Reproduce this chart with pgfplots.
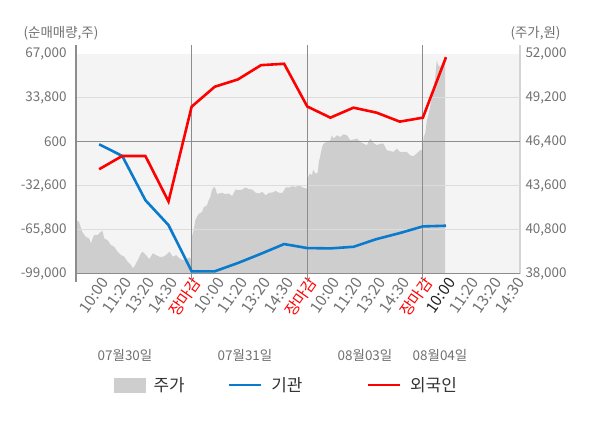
\documentclass[border=0pt]{standalone}
\usepackage{pgfplots}
\pgfplotsset{compat=1.18}
\usepackage{fontspec}
\setmainfont{Noto Sans CJK KR}
\definecolor{bgc}{HTML}{F4F4F4}
\definecolor{areagray}{HTML}{CECECE}
\definecolor{gridlight}{HTML}{DCDCDC}
\definecolor{axisgray}{HTML}{8C8C8C}
\definecolor{rightline}{HTML}{D4D4D4}
\definecolor{tickgray}{HTML}{707070}
\definecolor{legtext}{HTML}{333333}
\definecolor{blueline}{HTML}{0A7ACC}
\definecolor{redline}{HTML}{FF0000}
\definecolor{darktick}{HTML}{222222}
\newcommand\tfont{\fontsize{13.5}{16}\selectfont}
\newcommand\xfont{\fontsize{15.5}{18}\selectfont}
\newcommand\lfont{\fontsize{17}{20}\selectfont}
\pgfplotsset{
  lineleg/.style={legend image code/.code={\draw[##1] (0bp,0bp) -- (32bp,0bp);}},
  arealeg/.style={legend image code/.code={\fill[areagray] (0bp,-7bp) rectangle (31bp,7bp);}},
}
\begin{document}
\begin{tikzpicture}
\path[use as bounding box] (0,0) rectangle (600bp,428bp);
% ---------- price axis (right) ----------
\begin{axis}[
  at={(76bp,154.4bp)}, anchor=south west,
  scale only axis, width=444bp, height=228.6bp,
  xmin=-1, xmax=18.2, ymin=38000, ymax=52547,
  axis x line=none,
  axis y line*=right,
  y axis line style={draw=rightline, line width=1.2bp, -},
  scaled y ticks=false,
  ytick={38000,40800,43600,46400,49200,52000},
  yticklabels={{38,000},{40,800},{43,600},{46,400},{49,200},{52,000}},
  yticklabel style={font=\tfont, text=tickgray, xshift=2bp},
  major tick length=0,
  extra y ticks={40800,43600,49200},
  extra y tick labels={},
  extra y tick style={grid=major, major grid style={draw=gridlight, line width=1.2bp}},
  axis on top,
]
\fill[bgc] (axis cs:-1,38000) rectangle (axis cs:18.2,52000);
\addplot[fill=areagray, draw=none] coordinates {
(-1,38000) (-1,41400) (-0.87,41300) (-0.73,40660) (-0.58,40340) (-0.43,40240)
(-0.36,39920) (-0.22,40450) (-0.07,40450) (0.07,40660) (0.14,40720) (0.22,40240)
(0.36,40130) (0.51,39820) (0.65,39710) (0.80,39390) (0.94,39180) (1.09,39070)
(1.23,38760) (1.38,38550) (1.45,38340) (1.52,38440) (1.67,38860) (1.81,39290)
(1.88,39390) (2.03,39180) (2.17,38910) (2.32,39290) (2.46,39180) (2.61,39070)
(2.75,39070) (2.90,39180) (3.04,39390) (3.19,39070) (3.33,39180) (3.48,38970)
(3.62,38860) (3.77,38910) (3.91,39040) (3.99,38860)
(4.01,40340) (4.09,40770) (4.16,41400) (4.23,41610) (4.30,41780) (4.45,41930)
(4.52,42210) (4.67,42360) (4.74,42670) (4.81,42880) (4.88,43310) (4.96,43520)
(5.03,43420) (5.10,43050) (5.17,43100) (5.32,43140) (5.46,43050) (5.61,43100)
(5.75,42930) (5.90,43350) (6.04,43310) (6.19,43350) (6.33,43480) (6.48,43370)
(6.62,43350) (6.77,43140) (6.91,43100) (7.06,43200) (7.20,42990) (7.35,43140)
(7.49,43160) (7.64,43260) (7.78,43140) (7.93,43140) (8.07,43480) (8.22,43480)
(8.36,43560) (8.51,43520) (8.65,43630) (8.80,43480) (8.94,43420) (9.00,43420)
(9.02,44050) (9.11,44370) (9.21,44260) (9.25,44620) (9.35,44370) (9.45,44410)
(9.50,45110) (9.57,45530) (9.64,46060) (9.71,46270) (9.85,46380) (10.00,46480)
(10.07,46800) (10.14,46590) (10.28,46800) (10.43,46690) (10.57,46860) (10.72,46800)
(10.86,46480) (11.00,46530) (11.15,46590) (11.29,46380) (11.44,46270) (11.58,46170)
(11.72,46590) (11.87,46310) (12.01,46170) (12.16,46270) (12.30,46270) (12.44,45850)
(12.59,45800) (12.73,45740) (12.87,45960) (13.02,45740) (13.16,45740) (13.30,45740)
(13.45,45530) (13.59,45470) (13.73,45640) (13.88,45850) (14.00,45890)
(14.03,46690) (14.10,46910) (14.17,47750) (14.24,48070) (14.31,48600) (14.39,49230)
(14.46,49870) (14.53,50400) (14.60,51560) (14.67,51250) (14.75,51140) (14.82,51250)
(14.89,51350) (14.96,51350) (14.96,38000)
};
\end{axis}
% ---------- investor axis (left) ----------
\begin{axis}[
  at={(76bp,154.4bp)}, anchor=south west,
  scale only axis, width=444bp, height=228.6bp,
  xmin=-1, xmax=18.2, ymin=-99000, ymax=73490,
  axis x line*=bottom, axis y line*=left,
  axis line style={draw=axisgray, line width=1.2bp, -},
  scaled y ticks=false, scaled x ticks=false,
  xtick={0,...,18},
  xticklabels={10:00,11:20,13:20,14:30,\textcolor{redline}{장마감},10:00,11:20,13:20,14:30,\textcolor{redline}{장마감},10:00,11:20,13:20,14:30,\textcolor{redline}{장마감},\textcolor{darktick}{10:00},11:20,13:20,14:30},
  xticklabel style={rotate=55, anchor=east, font=\xfont, text=tickgray, yshift=-8bp, xshift=2bp},
  ytick={-99000,-65800,-32600,600,33800,67000},
  yticklabels={{-99,000},{-65,800},{-32,600},{600},{33,800},{67,000}},
  yticklabel style={font=\tfont, text=tickgray, xshift=-6bp},
  major tick length=0,
  extra x ticks={-1,4,9,14},
  extra x tick labels={},
  extra x tick style={grid=major, major grid style={draw=axisgray, line width=1.2bp},
     major tick length=8bp, tick align=outside, tick style={draw=axisgray, line width=1.2bp}},
  extra y ticks={600},
  extra y tick labels={},
  extra y tick style={grid=major, major grid style={draw=axisgray, line width=1.2bp}},
  legend columns=3,
  legend style={at={(axis description cs:0.0856,-0.487)}, anchor=west, draw=none, fill=none,
     inner sep=0pt, font=\lfont, text=legtext, nodes={inner sep=0pt},
     /tikz/column 1/.style={column sep=8bp},
     /tikz/column 2/.style={column sep=43bp},
     /tikz/column 3/.style={column sep=9bp},
     /tikz/column 4/.style={column sep=64bp},
     /tikz/column 5/.style={column sep=9bp}},
]
\addlegendimage{arealeg}
\addlegendentry{주가}
\addplot[blueline, line width=2.6bp, lineleg] coordinates {
(0,-1430) (1,-10240) (2,-43590) (3,-62410) (4,-97270) (5,-97270) (6,-91020) (7,-84020)
(8,-76720) (9,-79730) (10,-79980) (11,-78770) (12,-72950) (13,-68430) (14,-63390) (15,-62880)
};
\addlegendentry{기관}
\addplot[redline, line width=2.6bp, lineleg] coordinates {
(0,-20260) (1,-10240) (2,-10240) (3,-44570) (4,26950) (5,42000) (6,47500) (7,58270)
(8,59320) (9,27100) (10,18670) (11,26200) (12,22430) (13,15660) (14,18670) (15,64290)
};
\addlegendentry{외국인}
\end{axis}
\node[font=\tfont, text=tickgray] at (61bp,394.7bp) {(순매매량,주)};
\node[font=\tfont, text=tickgray] at (535.5bp,394.7bp) {(주가,원)};
\node[font=\tfont, text=tickgray] at (125bp,73bp) {07월30일};
\node[font=\tfont, text=tickgray] at (245bp,73bp) {07월31일};
\node[font=\tfont, text=tickgray] at (365bp,73bp) {08월03일};
\node[font=\tfont, text=tickgray] at (440bp,73bp) {08월04일};
\end{tikzpicture}
\end{document}
